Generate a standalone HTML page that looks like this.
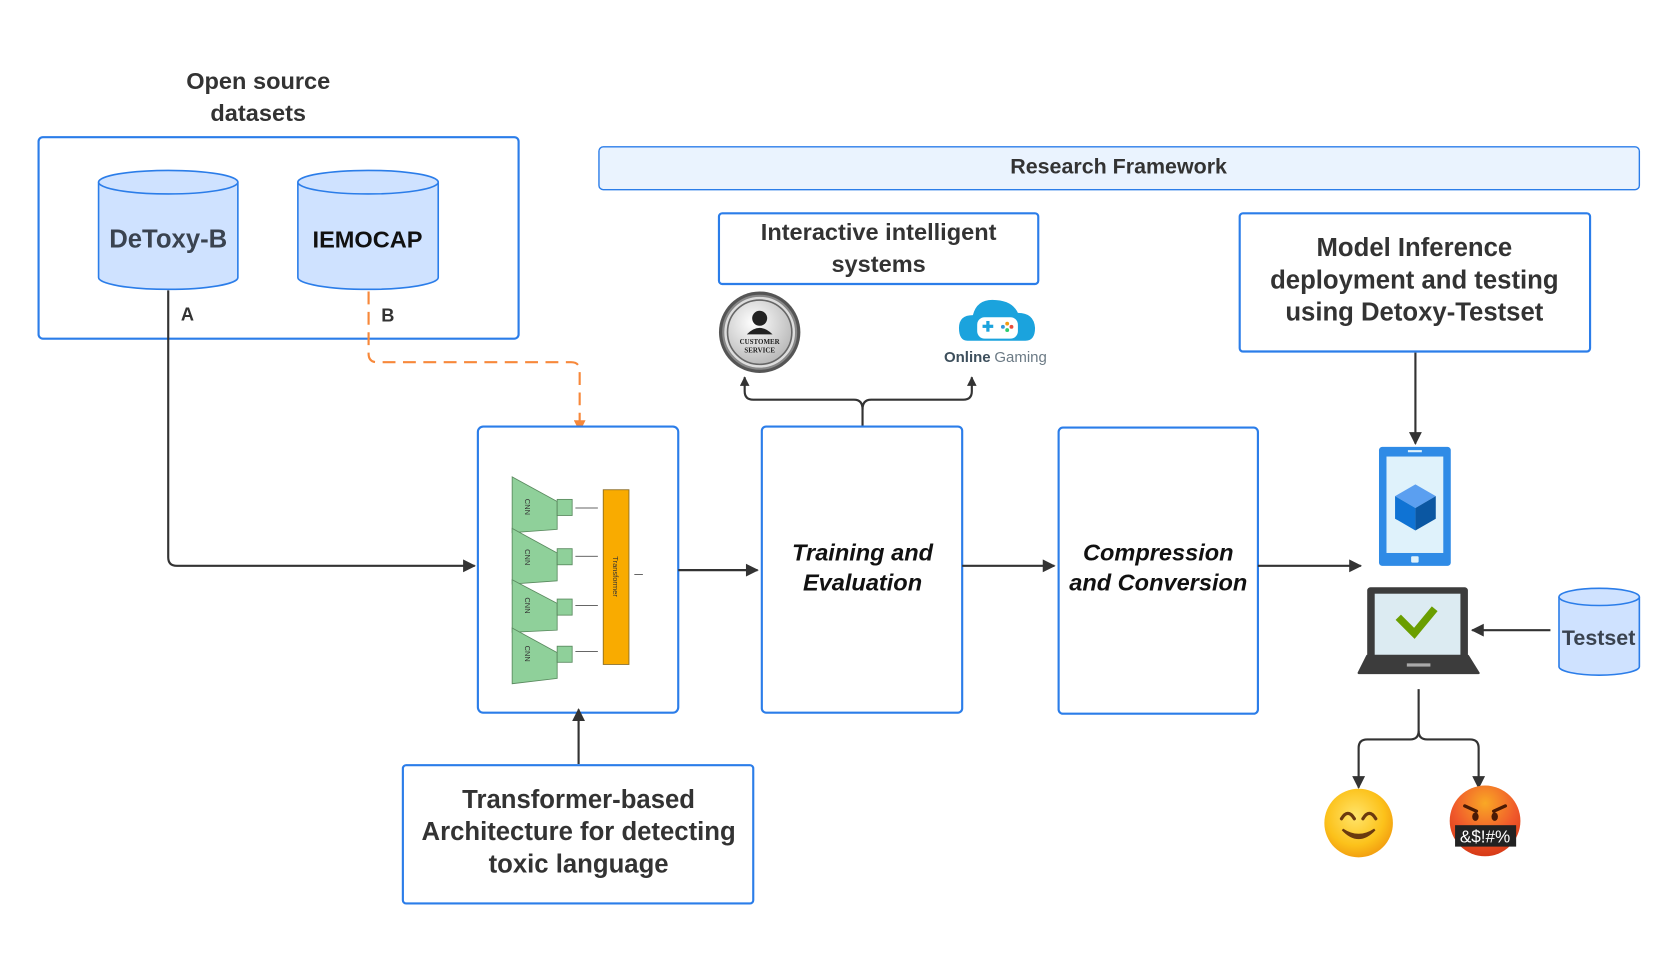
<!DOCTYPE html>
<html><head><meta charset="utf-8"><style>
html,body{margin:0;padding:0;background:#fff;}
svg{display:block}
text{font-family:"Liberation Sans",sans-serif;fill:#333;}
</style></head><body>
<svg width="1679" height="957" viewBox="0 0 1567 893" preserveAspectRatio="none" xmlns="http://www.w3.org/2000/svg">
<defs>
<marker id="ar" viewBox="0 0 10 10" refX="9" refY="5" markerWidth="9" markerHeight="9" markerUnits="userSpaceOnUse" orient="auto"><path d="M0,0 L10,5 L0,10 z" fill="#333"/></marker>
<marker id="ar2" viewBox="0 0 10 10" refX="9" refY="5" markerWidth="16" markerHeight="12" markerUnits="userSpaceOnUse" orient="auto"><path d="M0,0 L10,5 L0,10 z" fill="#333"/></marker>
<marker id="ao" viewBox="0 0 10 10" refX="9" refY="5" markerWidth="14" markerHeight="11" markerUnits="userSpaceOnUse" orient="auto"><path d="M0,0 L10,5 L0,10 z" fill="#f7883a"/></marker>
<radialGradient id="sm" cx="45%" cy="40%" r="60%"><stop offset="0" stop-color="#ffe46a"/><stop offset="0.7" stop-color="#fcc21b"/><stop offset="1" stop-color="#f3a111"/></radialGradient>
<radialGradient id="an" cx="50%" cy="25%" r="75%"><stop offset="0" stop-color="#f9a825"/><stop offset="0.6" stop-color="#f0592b"/><stop offset="1" stop-color="#d73a17"/></radialGradient>
<radialGradient id="cs" cx="40%" cy="35%" r="65%"><stop offset="0" stop-color="#fff"/><stop offset="1" stop-color="#bbb"/></radialGradient>
</defs>

<text x="241" y="83" font-size="22" font-weight="bold" text-anchor="middle">Open source</text>
<text x="241" y="113" font-size="22" font-weight="bold" text-anchor="middle">datasets</text>
<rect x="36" y="128" width="448" height="188" rx="4" fill="none" stroke="#2b7de9" stroke-width="2"/>

<g fill="#cfe2ff" stroke="#2b7de9" stroke-width="1.5">
<path d="M92,170 L92,259 A65,11 0 0 0 222,259 L222,170"/>
<ellipse cx="157" cy="170" rx="65" ry="11"/>
<path d="M278,170 L278,259 A65.5,11 0 0 0 409,259 L409,170"/>
<ellipse cx="343.5" cy="170" rx="65.5" ry="11"/>
<path d="M1455,557 L1455,622 A37.5,8 0 0 0 1530,622 L1530,557"/>
<ellipse cx="1492.5" cy="557" rx="37.5" ry="8"/>
</g>
<text x="157" y="231" font-size="24" font-weight="bold" text-anchor="middle" style="fill:#3a4350">DeToxy-B</text>
<text x="343" y="231" font-size="22" font-weight="bold" text-anchor="middle" style="fill:#111">IEMOCAP</text>
<text x="1492" y="602" font-size="20" font-weight="bold" text-anchor="middle" style="fill:#3a4350">Testset</text>
<text x="175" y="299" font-size="17" font-weight="bold" text-anchor="middle">A</text>
<text x="362" y="300" font-size="17" font-weight="bold" text-anchor="middle">B</text>

<path d="M157,271 L157,520 Q157,528 165,528 L443,528" fill="none" stroke="#333" stroke-width="2" marker-end="url(#ar2)"/>
<path d="M344,272 L344,330 Q344,338 352,338 L533,338 Q541,338 541,346 L541,402" fill="none" stroke="#f7883a" stroke-width="2" stroke-dasharray="12,7" marker-end="url(#ao)"/>

<rect x="559" y="137" width="971" height="40" rx="4" fill="#eaf3fe" stroke="#2b7de9" stroke-width="1.3"/>
<text x="1044" y="162" font-size="20" font-weight="bold" text-anchor="middle">Research Framework</text>

<rect x="671" y="199" width="298" height="66" rx="3" fill="#fff" stroke="#2b7de9" stroke-width="2"/>
<text x="820" y="224" font-size="22" font-weight="bold" text-anchor="middle">Interactive intelligent</text>
<text x="820" y="254" font-size="22" font-weight="bold" text-anchor="middle">systems</text>

<circle cx="709" cy="310" r="38" fill="#555"/>
<circle cx="709" cy="310" r="34" fill="#ddd" stroke="#888" stroke-width="2"/>
<circle cx="709" cy="310" r="30" fill="url(#cs)" stroke="#666" stroke-width="1.5"/>
<circle cx="709" cy="297" r="7" fill="#222"/>
<path d="M697,312 Q709,300 721,312 Z" fill="#222"/>
<text x="709" y="321" font-size="6.5" font-weight="bold" text-anchor="middle" style="font-family:'Liberation Serif',serif;fill:#222">CUSTOMER</text>
<text x="709" y="329" font-size="6.5" font-weight="bold" text-anchor="middle" style="font-family:'Liberation Serif',serif;fill:#222">SERVICE</text>

<path d="M903,318 Q895,318 895,306 Q895,294 908,294 Q912,278 930,280 Q945,281 950,292 Q965,292 966,306 Q966,318 957,318 Z" fill="#1ba3dd"/>
<rect x="912" y="296" width="38" height="20" rx="7" fill="#fff"/>
<rect x="917" y="303" width="10" height="3" fill="#1ba3dd"/><rect x="920.5" y="299.5" width="3" height="10" fill="#1ba3dd"/>
<circle cx="940" cy="302" r="1.8" fill="#f39c12"/><circle cx="944" cy="305" r="1.8" fill="#e74c3c"/><circle cx="936" cy="305" r="1.8" fill="#3498db"/><circle cx="940" cy="308" r="1.8" fill="#2ecc71"/>
<text x="881" y="338" font-size="14" font-weight="bold" style="fill:#3d4f5c">Online</text>
<text x="928" y="338" font-size="14" style="fill:#6b7a85">Gaming</text>

<path d="M805,398 L805,382 Q805,373 797,373 L703,373 Q695,373 695,365 L695,352" fill="none" stroke="#333" stroke-width="2" marker-end="url(#ar)"/>
<path d="M805,382 Q805,373 813,373 L899,373 Q907,373 907,365 L907,352" fill="none" stroke="#333" stroke-width="2" marker-end="url(#ar)"/>

<rect x="446" y="398" width="187" height="267" rx="5" fill="#fff" stroke="#2b7de9" stroke-width="2"/>
<g fill="#8fd09a" stroke="#5a8a5f" stroke-width="0.8">
<path d="M478,445 L520,468 L520,494 L478,497 Z"/>
<path d="M478,493 L520,516 L520,542 L478,545 Z"/>
<path d="M478,541 L520,563 L520,588 L478,590 Z"/>
<path d="M478,586 L520,609 L520,633 L478,638 Z"/>
<rect x="520" y="466" width="14" height="15"/><rect x="520" y="512" width="14" height="15"/>
<rect x="520" y="559" width="14" height="15"/><rect x="520" y="603" width="14" height="15"/>
</g>
<g font-size="7" style="fill:#244">
<text transform="translate(490,473) rotate(90)" text-anchor="middle">CNN</text>
<text transform="translate(490,520) rotate(90)" text-anchor="middle">CNN</text>
<text transform="translate(490,565) rotate(90)" text-anchor="middle">CNN</text>
<text transform="translate(490,610) rotate(90)" text-anchor="middle">CNN</text>
</g>
<g stroke="#333" stroke-width="0.7"><line x1="537" y1="474" x2="558" y2="474"/><line x1="537" y1="519" x2="558" y2="519"/><line x1="537" y1="565" x2="558" y2="565"/><line x1="537" y1="608" x2="558" y2="608"/><line x1="592" y1="536" x2="600" y2="536"/></g>
<rect x="563" y="457" width="24" height="163" fill="#f9ab00" stroke="#8a6a20" stroke-width="0.8"/>
<text transform="translate(572,538) rotate(90)" font-size="7" text-anchor="middle" style="fill:#333">Transformer</text>

<path d="M633,532 L707,532" stroke="#333" stroke-width="2" marker-end="url(#ar2)"/>

<rect x="711" y="398" width="187" height="267" rx="4" fill="#fff" stroke="#2b7de9" stroke-width="2"/>
<text x="805" y="523" font-size="22" font-weight="bold" font-style="italic" text-anchor="middle" style="fill:#111">Training and</text>
<text x="805" y="551" font-size="22" font-weight="bold" font-style="italic" text-anchor="middle" style="fill:#111">Evaluation</text>
<path d="M898,528 L984,528" stroke="#333" stroke-width="2" marker-end="url(#ar2)"/>

<rect x="988" y="399" width="186" height="267" rx="4" fill="#fff" stroke="#2b7de9" stroke-width="2"/>
<text x="1081" y="523" font-size="22" font-weight="bold" font-style="italic" text-anchor="middle" style="fill:#111">Compression</text>
<text x="1081" y="551" font-size="22" font-weight="bold" font-style="italic" text-anchor="middle" style="fill:#111">and Conversion</text>
<path d="M1174,528 L1270,528" stroke="#333" stroke-width="2" marker-end="url(#ar2)"/>

<rect x="1157" y="199" width="327" height="129" rx="3" fill="#fff" stroke="#2b7de9" stroke-width="2"/>
<text x="1320" y="239" font-size="24" font-weight="bold" text-anchor="middle">Model Inference</text>
<text x="1320" y="269" font-size="24" font-weight="bold" text-anchor="middle">deployment and testing</text>
<text x="1320" y="299" font-size="24" font-weight="bold" text-anchor="middle">using Detoxy-Testset</text>
<path d="M1321,329 L1321,414" stroke="#333" stroke-width="2" marker-end="url(#ar2)"/>

<rect x="1287" y="417" width="67" height="111" rx="3" fill="#2f8be6"/>
<rect x="1294" y="426" width="53" height="90" fill="#dff2fb"/>
<rect x="1314" y="420" width="13" height="2" fill="#dff2fb"/>
<rect x="1317" y="519" width="7" height="6" rx="1" fill="#dff2fb"/>
<path d="M1321,452 L1340,463 L1321,474 L1302,463 Z" fill="#5b9ff0"/>
<path d="M1302,463 L1321,474 L1321,495 L1302,484 Z" fill="#0f73d4"/>
<path d="M1340,463 L1321,474 L1321,495 L1340,484 Z" fill="#0b57a2"/>

<rect x="1276" y="548" width="94" height="70" rx="3" fill="#3c3c3c"/>
<rect x="1283" y="554" width="80" height="58" fill="#dcebf2"/>
<path d="M1276,612 L1370,612 L1380,628 L1268,628 Z" fill="#3c3c3c" stroke="#3c3c3c" stroke-linejoin="round" stroke-width="2"/>
<rect x="1313" y="619" width="22" height="3" fill="#aaa"/>
<path d="M1305,576 L1320,591 L1339,568" fill="none" stroke="#6a9e00" stroke-width="7"/>
<path d="M1447,588 L1374,588" stroke="#333" stroke-width="2" marker-end="url(#ar2)"/>

<path d="M1324,643 L1324,682 Q1324,690 1316,690 L1276,690 Q1268,690 1268,698 L1268,735" fill="none" stroke="#333" stroke-width="2" marker-end="url(#ar2)"/>
<path d="M1324,682 Q1324,690 1332,690 L1372,690 Q1380,690 1380,698 L1380,735" fill="none" stroke="#333" stroke-width="2" marker-end="url(#ar2)"/>

<circle cx="1268" cy="768" r="32" fill="url(#sm)"/>
<path d="M1252,764 Q1258,754 1264,764" fill="none" stroke="#6b3a0f" stroke-width="3" stroke-linecap="round"/>
<path d="M1272,764 Q1278,754 1284,764" fill="none" stroke="#6b3a0f" stroke-width="3" stroke-linecap="round"/>
<path d="M1253,774 Q1268,790 1283,774 Q1268,784 1253,774 Z" fill="#6b3a0f" stroke="#6b3a0f" stroke-width="2"/>
<circle cx="1386" cy="766" r="33" fill="url(#an)"/>
<path d="M1367,752 L1378,757 M1405,752 L1394,757" stroke="#4a1a05" stroke-width="3" stroke-linecap="round"/>
<ellipse cx="1377" cy="762" rx="3" ry="4" fill="#4a1a05"/><ellipse cx="1395" cy="762" rx="3" ry="4" fill="#4a1a05"/>
<rect x="1358" y="770" width="57" height="20" fill="#222"/>
<text x="1386" y="786" font-size="16" text-anchor="middle" style="fill:#fff">&amp;$!#%</text>

<path d="M540,713 L540,662" stroke="#333" stroke-width="2" marker-end="url(#ar2)"/>
<rect x="376" y="714" width="327" height="129" rx="3" fill="#fff" stroke="#2b7de9" stroke-width="2"/>
<text x="540" y="754" font-size="24" font-weight="bold" text-anchor="middle">Transformer-based</text>
<text x="540" y="784" font-size="24" font-weight="bold" text-anchor="middle">Architecture for detecting</text>
<text x="540" y="814" font-size="24" font-weight="bold" text-anchor="middle">toxic language</text>
</svg>
</body></html>
